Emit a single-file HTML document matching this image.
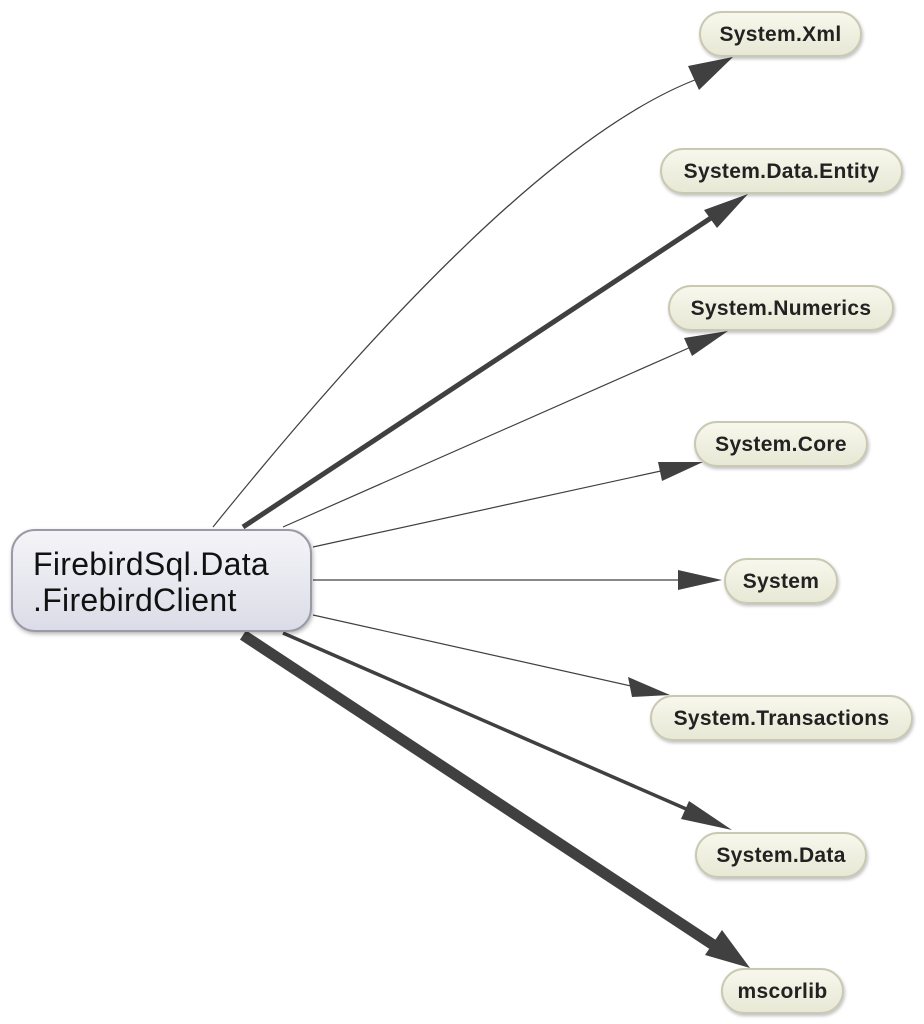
<!DOCTYPE html>
<html><head><style>
body{margin:0;background:#fff;width:924px;height:1024px;overflow:hidden;position:relative;font-family:"Liberation Sans",Arial,sans-serif}
.n{position:absolute;box-sizing:border-box;height:46px;border-radius:23px;border:2px solid #c9c9b3;background:linear-gradient(#f7f7ec,#e8e8d6);box-shadow:1px 2px 3px rgba(0,0,0,.25);font-weight:bold;font-size:21px;letter-spacing:0.3px;color:#222;text-align:center;line-height:44px}
.m{position:absolute;left:11px;top:529px;width:301px;height:103px;box-sizing:border-box;border:2px solid #9a9aa6;border-radius:24px;background:linear-gradient(#f4f4f8,#dcdce8);box-shadow:1px 2px 4px rgba(0,0,0,.3);font-size:32px;letter-spacing:0.3px;color:#111;padding:15px 0 0 20px;line-height:36px}
</style></head><body>
<svg width="924" height="1024" style="position:absolute;left:0;top:0">
<g fill="none" stroke="#404040">
<path d="M213,527 C380,320 560,130 700,78" stroke-width="1.2"/>
<path d="M243,527 L720,212" stroke-width="5"/>
<path d="M283,527 L700,343" stroke-width="1.2"/>
<path d="M313,547 L670,469" stroke-width="1.2"/>
<path d="M313,580 L690,580" stroke-width="1.2"/>
<path d="M313,615 L640,688" stroke-width="1.2"/>
<path d="M283,633 L700,815" stroke-width="3.5"/>
<path d="M243,635 L715,946" stroke-width="11"/>
</g>
<g fill="#404040">
<polygon points="733,57 688,66 699,90"/>
<polygon points="748,194 704,210 717,228"/>
<polygon points="728,331 684,338 692,356"/>
<polygon points="703,462 658,462 662,481"/>
<polygon points="722,580 678,570 678,590"/>
<polygon points="670,695 628,677 632,697"/>
<polygon points="732,830 689,801 681,819"/>
<polygon points="750,968 722,930 705,955"/>
</g>
</svg>
<div class="m">FirebirdSql.Data<br>.FirebirdClient</div>
<div class="n" style="left:699px;top:11px;width:163px">System.Xml</div>
<div class="n" style="left:660px;top:148px;width:243px">System.Data.Entity</div>
<div class="n" style="left:668px;top:285px;width:226px">System.Numerics</div>
<div class="n" style="left:694px;top:421px;width:174px">System.Core</div>
<div class="n" style="left:724px;top:558px;width:114px">System</div>
<div class="n" style="left:650px;top:695px;width:263px">System.Transactions</div>
<div class="n" style="left:695px;top:832px;width:172px">System.Data</div>
<div class="n" style="left:721px;top:968px;width:123px">mscorlib</div>
</body></html>
